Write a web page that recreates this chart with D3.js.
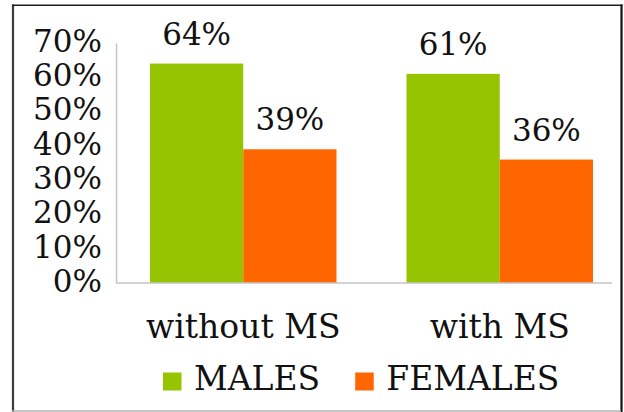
<!DOCTYPE html>
<html>
<head>
<meta charset="utf-8">
<script src="https://cdn.jsdelivr.net/npm/d3@7"></script>
<style>
  html, body { margin: 0; padding: 0; background: #fff; }
  svg { display: block; font-family: "DejaVu Serif", serif; }
</style>
</head>
<body>
<svg id="chart" width="624" height="412"></svg>
<script>
const categories = ["without MS", "with MS"];
const seriesNames = ["MALES", "FEMALES"];
const males = [64, 61];
const females = [39, 36];
const yTicks = [0, 10, 20, 30, 40, 50, 60, 70];
const seriesColors = ["#96c400", "#ff6600"];

const svg = d3.select("#chart");
const W = 624, H = 412;
const ink = "#111";

// frame
svg.append("rect").attr("x", 0).attr("y", 0).attr("width", W).attr("height", H).attr("fill", "#fff");
svg.append("line").attr("x1", 13).attr("x2", 13).attr("y1", 4.5).attr("y2", 412).attr("stroke", "#3a3a3a").attr("stroke-width", 2.2);
svg.append("line").attr("x1", 12).attr("x2", 622.5).attr("y1", 5.3).attr("y2", 5.3).attr("stroke", "#1e1e1e").attr("stroke-width", 1.6);
svg.append("line").attr("x1", 621.5).attr("x2", 621.5).attr("y1", 4.5).attr("y2", 412).attr("stroke", "#111").attr("stroke-width", 2.2);
svg.append("line").attr("x1", 12).attr("x2", 621).attr("y1", 411).attr("y2", 411).attr("stroke", "#b0b0b0").attr("stroke-width", 1.5);

const y = d3.scaleLinear().domain([0, 70]).range([283, 43]);
const x0 = d3.scaleBand().domain(categories).range([115, 628]).paddingInner(0.273).paddingOuter(0.1365);
const x1 = d3.scaleBand().domain(seriesNames).range([0, x0.bandwidth()]);

const rows = categories.map((c, i) => ({ cat: c, values: [males[i], females[i]] }));

// y axis
const yAxis = svg.append("g").attr("transform", "translate(116,0)")
  .call(d3.axisLeft(y).tickValues(yTicks).tickSize(0).tickPadding(14).tickFormat(d => d + "%"));
yAxis.select(".domain").attr("stroke", "#c4c4c4").attr("stroke-width", 1.5);
yAxis.selectAll("text").attr("font-family", "DejaVu Serif").attr("font-size", 31).attr("fill", ink).attr("dy", "0.27em");

// bars
const groups = svg.append("g").selectAll("g").data(rows).join("g")
  .attr("transform", d => `translate(${x0(d.cat)},0)`);
groups.selectAll("rect").data(d => d.values.map((v, j) => ({ v, s: seriesNames[j], j })))
  .join("rect")
  .attr("x", d => x1(d.s))
  .attr("width", x1.bandwidth())
  .attr("y", d => y(d.v))
  .attr("height", d => y(0) - y(d.v))
  .attr("fill", d => seriesColors[d.j]);
groups.selectAll("text").data(d => d.values.map((v, j) => ({ v, s: seriesNames[j] })))
  .join("text")
  .attr("x", d => x1(d.s) + x1.bandwidth() / 2)
  .attr("y", d => y(d.v) - 19)
  .attr("text-anchor", "middle")
  .attr("font-size", 31)
  .attr("fill", ink)
  .text(d => d.v + "%");

// baseline
svg.append("line").attr("x1", 116).attr("x2", 612).attr("y1", y(0)).attr("y2", y(0))
  .attr("stroke", "#c4c4c4").attr("stroke-width", 1.5);

// x axis labels
const xAxis = svg.append("g").attr("transform", `translate(0,${y(0)})`)
  .call(d3.axisBottom(x0).tickSize(0).tickPadding(31.5));
xAxis.select(".domain").remove();
xAxis.selectAll("text").attr("font-family", "DejaVu Serif").attr("font-size", 33).attr("fill", ink);

// legend
const legend = svg.append("g");
let lx = 163;
seriesNames.forEach((name, i) => {
  legend.append("rect").attr("x", lx).attr("y", 372.5).attr("width", 18.5).attr("height", 18)
    .attr("fill", seriesColors[i]);
  const t = legend.append("text").attr("x", lx + 31).attr("y", 390)
    .attr("font-size", 33).attr("fill", ink).text(name);
  lx = lx + 31 + t.node().getComputedTextLength() + 35;
});
</script>
</body>
</html>
